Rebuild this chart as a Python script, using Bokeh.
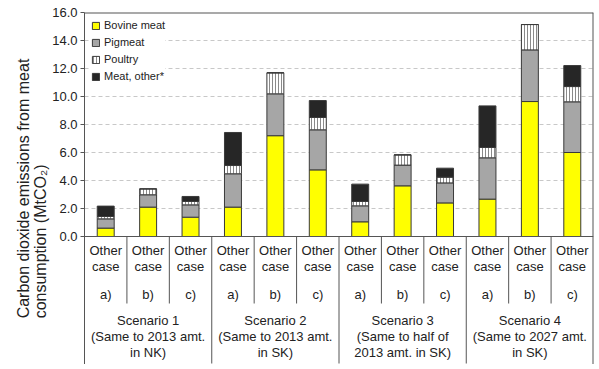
import math
from bokeh.plotting import figure
from bokeh.models import Range1d, FixedTicker, NumeralTickFormatter, Title, ColumnDataSource
from bokeh.core.properties import value
from bokeh.embed import file_html
from bokeh.resources import INLINE

# ---- data ----
scenarios = ["Scenario 1", "Scenario 2", "Scenario 3", "Scenario 4"]
scenario_notes = [
    ["(Same to 2013 amt.", "in NK)"],
    ["(Same to 2013 amt.", "in SK)"],
    ["(Same to half of", "2013 amt. in SK)"],
    ["(Same to 2027 amt.", "in SK)"],
]
cases = ["a)", "b)", "c)"]
bovine  = [0.60, 2.10, 1.38, 2.10, 7.20, 4.76, 1.05, 3.62, 2.40, 2.67, 9.64, 6.00]
pigmeat = [0.66, 0.88, 0.88, 2.38, 2.99, 2.86, 1.14, 1.48, 1.43, 2.95, 3.69, 3.62]
poultry = [0.17, 0.42, 0.24, 0.59, 1.50, 0.88, 0.31, 0.73, 0.41, 0.74, 1.81, 1.09]
other   = [0.74, 0.00, 0.36, 2.36, 0.00, 1.21, 1.24, 0.00, 0.64, 2.97, 0.00, 1.50]
y_ticks = [0, 2, 4, 6, 8, 10, 12, 14, 16]
series_names = ["Bovine meat", "Pigmeat", "Poultry", "Meat, other*"]

n = len(bovine)
ncase = len(cases)
xs = list(range(n))

FONT = "Liberation Sans"
TXT = "#222222"
LINE = "#555555"
PX = 14.0  # px per unit (layout helper)
FRAME_H = 352

src = ColumnDataSource(dict(x=xs, bovine=bovine, pigmeat=pigmeat, poultry=poultry, other=other))

y_bottom = 16 - FRAME_H / PX
p = figure(width=595, height=364, output_backend="svg", toolbar_location=None,
           x_range=Range1d(-0.5, n - 0.5), y_range=Range1d(y_bottom, 16),
           min_border_left=84, min_border_right=2, min_border_top=12, min_border_bottom=0,
           x_axis_location=None)
p.outline_line_color = None
p.background_fill_color = "white"
p.border_fill_color = "white"

# grid
p.xgrid.visible = False
p.ygrid.ticker = FixedTicker(ticks=y_ticks[1:-1])
p.ygrid.grid_line_color = "#c8c8c8"
p.ygrid.grid_line_dash = "4 3"
p.ygrid.grid_line_width = 1

# y axis
p.yaxis.ticker = FixedTicker(ticks=y_ticks)
p.yaxis.formatter = NumeralTickFormatter(format="0.0")
p.yaxis.major_label_text_font = FONT
p.yaxis.major_label_text_font_size = "13px"
p.yaxis.major_label_text_color = TXT
p.yaxis.axis_line_color = LINE
p.yaxis.major_tick_line_color = LINE
p.yaxis.major_tick_out = 4
p.yaxis.major_tick_in = 0
p.yaxis.minor_tick_line_color = None
p.yaxis.major_label_standoff = 3

# bars
p.vbar_stack(["bovine", "pigmeat", "poultry", "other"], x="x", width=0.4, source=src,
             fill_color=["#ffff00", "#a6a6a6", "white", "#262626"],
             line_color="#3a3a3a", line_width=1,
             hatch_pattern=[" ", " ", "|", " "], hatch_color="#8a8a8a",
             hatch_scale=3, hatch_weight=1,
             legend_label=series_names)

# baseline, top and right borders
p.segment(x0=[-0.5], y0=[0], x1=[n - 0.5], y1=[0], line_color=LINE, line_width=1)
p.segment(x0=[-0.5], y0=[16], x1=[n - 0.5], y1=[16], line_color=LINE, line_width=2)
p.segment(x0=[n - 0.5], y0=[16], x1=[n - 0.5], y1=[y_bottom], line_color=LINE, line_width=2)

# table separators
inner_x = [i + 0.5 for i in range(n - 1) if (i + 1) % ncase != 0]
group_x = [i + 0.5 for i in range(n - 1) if (i + 1) % ncase == 0]
y_inner_end = -67 / PX
y_group_end = -127 / PX
p.segment(x0=inner_x, y0=[0] * len(inner_x), x1=inner_x, y1=[y_inner_end] * len(inner_x),
          line_color=LINE, line_width=1)
p.segment(x0=group_x, y0=[0] * len(group_x), x1=group_x, y1=[y_group_end] * len(group_x),
          line_color=LINE, line_width=1)

# table texts
tk = dict(text_font=value(FONT), text_font_size="13px", text_color=TXT,
          text_align="center", text_baseline="middle")
p.text(x=xs, y=[-14 / PX] * n, text=["Other"] * n, **tk)
p.text(x=xs, y=[-29.7 / PX] * n, text=["case"] * n, **tk)
p.text(x=xs, y=[-58 / PX] * n, text=cases * len(scenarios), **tk)

gx = [sum(xs[g * ncase:(g + 1) * ncase]) / ncase for g in range(len(scenarios))]
p.text(x=gx, y=[-84 / PX] * len(gx), text=scenarios, **tk)
p.text(x=gx, y=[-100 / PX] * len(gx), text=[s[0] for s in scenario_notes], **tk)
p.text(x=gx, y=[-115.7 / PX] * len(gx), text=[s[1] for s in scenario_notes], **tk)

# y axis title (placed in left panel, shifted up to centre on the chart part)
ttl = Title(text="Carbon dioxide emissions from meat\nconsumption (MtCO\u2082)",
            align="center", offset=(FRAME_H / 2 - 8 * PX),
            text_font=FONT, text_font_size="16px", text_color=TXT,
            text_font_style="normal", standoff=2)
p.add_layout(ttl, "left")

# legend
lg = p.legend[0]
lg.location = "top_left"
lg.margin = 7
lg.padding = 4
lg.border_line_color = None
lg.background_fill_color = "white"
lg.background_fill_alpha = 1.0
lg.label_text_font = FONT
lg.label_text_font_size = "11px"
lg.label_text_color = TXT
lg.glyph_width = 9
lg.glyph_height = 9
lg.label_height = 10
lg.label_standoff = 4
lg.spacing = 5

open("out.html", "w").write(file_html(p, INLINE))
